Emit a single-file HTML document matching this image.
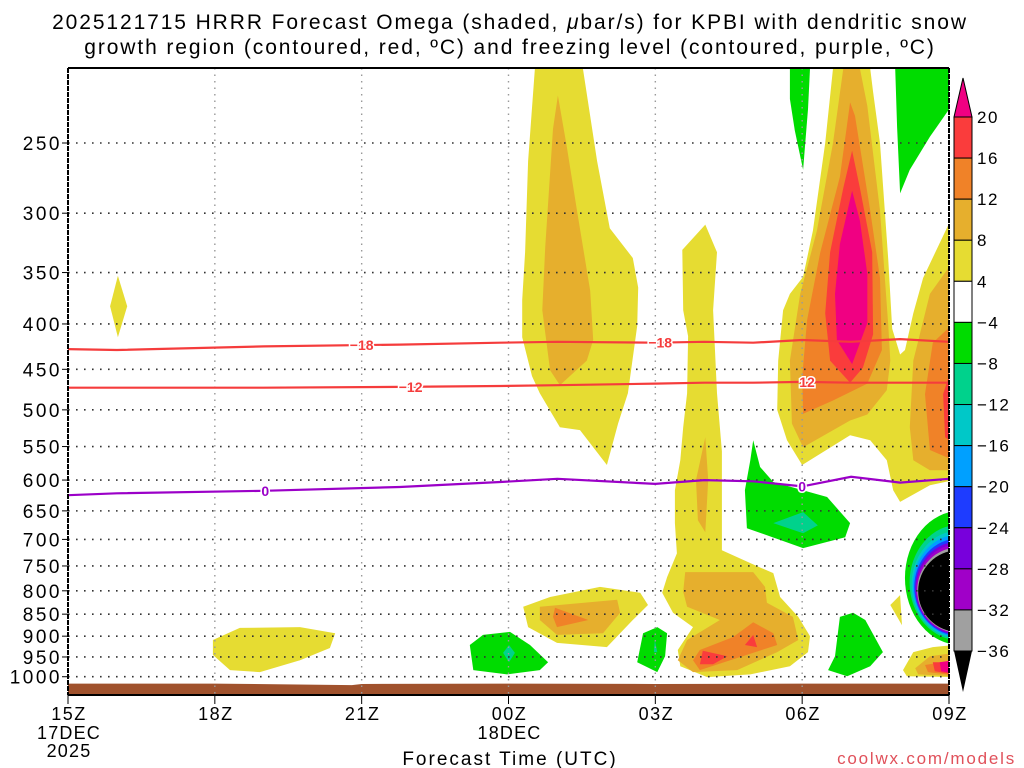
<!DOCTYPE html>
<html><head><meta charset="utf-8"><style>
html,body{margin:0;padding:0;background:#fff;}
#wrap{position:relative;width:1024px;height:768px;overflow:hidden;font-family:"Liberation Sans",sans-serif;}
svg text{font-family:"Liberation Sans",sans-serif;}
</style></head><body>
<div id="wrap">
<svg id="chart" width="1024" height="768" viewBox="0 0 1024 768">
<text x="510" y="29" text-anchor="middle" font-size="21" letter-spacing="1.9">2025121715 HRRR Forecast Omega (shaded, <tspan font-style="italic">μ</tspan>bar/s) for KPBI with dendritic snow</text>
<text x="510" y="54" text-anchor="middle" font-size="21" letter-spacing="1.9">growth region (contoured, red, ºC) and freezing level (contoured, purple, ºC)</text>
<defs><clipPath id="plotclip"><rect x="68" y="68" width="881" height="627"/></clipPath></defs>
<g id="shading" clip-path="url(#plotclip)"></g>
<g id="grid"></g>
<g id="contours" clip-path="url(#plotclip)"></g>
<g id="axes"></g>
<g id="colorbar"></g>
<text x="510" y="765" text-anchor="middle" font-size="19" letter-spacing="2">Forecast Time (UTC)</text>
<text x="1016" y="764" text-anchor="end" font-size="17" fill="#e0505a" letter-spacing="1.8">coolwx.com/models</text>
</svg>
</div>
<script>
// ---- data ----
const pressureTicks=[250,300,350,400,450,500,550,600,650,700,750,800,850,900,950,1000];
const timeTicks=[0,3,6,9,12,15,18];
const timeLabels=["15Z","18Z","21Z","00Z","03Z","06Z","09Z"];
const colorLevels=[20,16,12,8,4,-4,-8,-12,-16,-20,-24,-28,-32,-36];
const colorFills=["#fa3c3c","#f08228","#e6af2d","#e6dc32","#ffffff","#00dc00","#00d28c","#00c8c8","#00a0ff","#1e3cff","#7800dc","#a000c8","#a0a0a0"];
const contourHours=[0,1,4,6.78,8.83,10,12,13,14,15,16,17,18];
const iso18=[427,428,424,422,420,419,420,419,420,417,419,416,419];
const iso12=[472,472,472,471,470,469,467,466,466,465,466,466,466];
const iso0=[624,621,617,611,603,598,606,600,602,610,595,604,598];
const groundHours=[0,3,5.8,6,9,12,15,18];
const groundP=[1018,1018,1022,1019,1018,1019,1018,1018];
const yellowA=[[9.54,206],[10.52,206],[10.81,262],[11.07,312],[11.54,337],[11.65,364],[11.63,402],[11.44,479],[11.24,518],[11.01,577],[10.46,527],[10.05,523],[9.64,479],[9.48,458],[9.28,414],[9.28,376],[9.34,332],[9.40,262]];
const goldA=[[10.01,221],[10.19,252],[10.40,298],[10.67,367],[10.73,417],[10.60,440],[10.05,469],[9.85,451],[9.69,386],[9.75,328],[9.91,241]];
const yellowB=[[1.02,353],[1.21,382],[1.02,414],[0.86,382]];
const yellowCD=[[13.02,309],[13.26,332],[13.18,386],[13.26,479],[13.36,557],[13.36,720],[14.14,753],[14.41,764],[14.55,813],[14.92,856],[15.16,900],[15.12,938],[14.75,973],[13.94,994],[13.06,1001],[12.51,973],[12.46,933],[12.77,879],[12.36,847],[12.14,804],[12.24,772],[12.44,726],[12.40,671],[12.40,616],[12.51,570],[12.57,523],[12.65,479],[12.67,413],[12.57,386],[12.55,330]];
const goldC=[[13.02,537],[13.08,600],[13.02,687],[12.87,666],[12.83,600]];
const goldD=[[12.61,762],[14.00,762],[14.24,792],[14.28,825],[14.81,856],[14.92,909],[14.49,938],[13.67,983],[12.77,988],[12.46,958],[12.65,909],[13.32,863],[12.65,834],[12.57,802]];
const orangeD=[[14.00,868],[14.41,893],[14.49,921],[13.53,958],[12.91,983],[12.77,958],[12.91,933],[13.59,902]];
const redD1=[[12.97,935],[13.47,948],[13.18,968],[12.91,968]];
const redD2=[[14.00,897],[14.08,926],[13.83,921]];
const yellowE=[[9.30,834],[9.85,813],[10.87,792],[11.69,804],[11.85,830],[11.54,863],[11.01,926],[9.99,916],[9.40,879]];
const goldE=[[9.64,834],[11.22,819],[11.28,847],[10.93,893],[9.99,897],[9.64,863]];
const orangeE=[[9.95,836],[10.63,863],[9.99,879],[9.91,856]];
const greenF=[[8.21,921],[8.48,897],[9.03,890],[9.44,921],[9.81,963],[9.64,983],[8.97,994],[8.28,983]];
const tealF=[[9.01,921],[9.13,940],[9.01,963],[8.89,940]];
const greenG=[[11.75,893],[12.04,879],[12.24,893],[12.20,948],[12.04,988],[11.63,963]];
const tealG=[[11.99,909],[12.04,938],[11.97,938]];
const greenH=[[14.00,541],[14.14,580],[14.41,603],[15.51,627],[15.98,671],[15.88,696],[15.02,716],[13.87,680],[13.83,616],[13.94,570]];
const tealH=[[14.41,671],[15.02,652],[15.32,675],[15.02,689]];
const greenI=[[15.77,856],[16.04,847],[16.29,863],[16.65,938],[16.39,973],[15.92,999],[15.53,983],[15.67,948]];
const yellowJ=[[17.00,809],[17.04,875],[16.80,830]];
const greenK=[[14.75,206],[15.16,206],[15.12,229],[15.02,268],[14.85,242],[14.75,223]];
const greenL=[[16.90,206],[18.1,206],[18.1,225],[17.61,246],[17.20,268],[17.00,285],[16.94,240]];
const yellowM=[[15.63,206],[16.39,206],[16.45,219],[16.59,250],[16.76,339],[16.84,405],[17.00,433],[17.10,428],[17.27,389],[17.47,355],[18.1,300],[18.1,600],[17.61,608],[17.00,635],[16.86,616],[16.73,570],[16.39,541],[15.98,534],[15.00,577],[14.69,541],[14.49,500],[14.51,440],[14.61,386],[14.75,370],[15.02,354],[15.22,314],[15.47,250]];
const goldM=[[15.84,206],[16.18,206],[16.33,227],[16.59,298],[16.76,402],[16.80,440],[16.73,475],[16.33,506],[15.98,514],[15.02,551],[14.79,518],[14.75,440],[14.96,370],[15.30,314],[15.63,250]];
const orangeM=[[15.98,225],[16.08,233],[16.39,298],[16.59,355],[16.63,428],[16.33,467],[15.63,488],[15.02,505],[15.00,459],[15.10,396],[15.37,332],[15.77,273]];
const redM=[[16.02,255],[16.18,281],[16.43,332],[16.45,411],[16.24,448],[15.98,466],[15.57,440],[15.47,389],[15.57,332],[15.84,281]];
const magentaM=[[16.02,283],[16.18,306],[16.33,351],[16.33,399],[16.02,444],[15.71,417],[15.67,370],[15.77,325]];
const goldN=[[18.1,339],[17.61,370],[17.27,440],[17.20,523],[17.27,570],[17.61,585],[18.1,585]];
const orangeN=[[18.1,399],[17.67,420],[17.51,480],[17.61,555],[18.1,570]];
const redN=[[18.1,440],[17.88,480],[17.92,537],[18.1,545]];
const yellowO=[[17.06,983],[17.27,938],[17.67,926],[18.1,921],[18.1,1001],[17.14,999]];
const goldO=[[17.31,978],[17.61,948],[18.1,940],[18.1,999],[17.37,994]];
const orangeO=[[17.51,970],[18.1,958],[18.1,996],[17.57,988]];
const redO=[[17.67,963],[18.1,963],[18.1,994],[17.71,986]];
const magentaO=[[17.81,963],[18.1,958],[18.1,991],[17.84,986]];
const yellowP=[[2.96,909],[3.51,881],[4.74,879],[5.46,893],[5.35,928],[4.74,958],[3.92,988],[3.31,983],[2.96,945]];
// right-edge rings: [hourLeft, pTop, pBottom, centreHour]
const ringOuter=[17.10,650,921,18.23];
const ringInner=[17.37,720,890,18.19];
const ringFrac=[0,0.35,0.5,0.6,0.7,0.78,0.85,0.93,1];
const ringFills=["#00dc00","#00d28c","#00c8c8","#00a0ff","#1e3cff","#7800dc","#a000c8","#a0a0a0","#000000"];

// ---- axes ----
const X=h=>68+h*(881/18);
const Y=p=>143+385*Math.log(p/250);
const NS="http://www.w3.org/2000/svg";
function mk(tag,attrs,parent){const e=document.createElementNS(NS,tag);for(const k in attrs)e.setAttribute(k,attrs[k]);parent.appendChild(e);return e;}
const shading=document.getElementById('shading');
const grid=document.getElementById('grid');
const contours=document.getElementById('contours');
const axes=document.getElementById('axes');
const cbar=document.getElementById('colorbar');

const shapes=[
 [yellowA,"#e6dc32","updraft-00z"],[goldA,"#e6af2d","updraft-00z-core"],
 [yellowB,"#e6dc32","updraft-16z"],[yellowP,"#e6dc32","updraft-19z"],
 [yellowCD,"#e6dc32","updraft-03z"],[goldC,"#e6af2d","updraft-03z-core"],[goldD,"#e6af2d","updraft-04z-low"],[orangeD,"#f08228","updraft-04z-orange"],[redD1,"#fa3c3c","updraft-04z-red"],[redD2,"#fa3c3c","updraft-05z-red"],
 [yellowE,"#e6dc32","updraft-01z-low"],[goldE,"#e6af2d","updraft-01z-gold"],[orangeE,"#f08228","updraft-01z-orange"],
 [greenF,"#00dc00","downdraft-00z"],[tealF,"#00d28c","downdraft-00z-core"],
 [greenG,"#00dc00","downdraft-03z"],[tealG,"#00d28c","downdraft-03z-core"],
 [greenH,"#00dc00","downdraft-06z"],[tealH,"#00d28c","downdraft-06z-core"],
 [greenI,"#00dc00","downdraft-07z-low"],[yellowJ,"#e6dc32","updraft-08z-small"],
 [greenK,"#00dc00","downdraft-06z-top"],[greenL,"#00dc00","downdraft-08z-top"],
 [yellowM,"#e6dc32","updraft-07z"],[goldM,"#e6af2d","updraft-07z-gold"],[orangeM,"#f08228","updraft-07z-orange"],[redM,"#fa3c3c","updraft-07z-red"],[magentaM,"#f00082","updraft-07z-max"],
 [goldN,"#e6af2d","updraft-09z-gold"],[orangeN,"#f08228","updraft-09z-orange"],[redN,"#fa3c3c","updraft-09z-red"],
 [yellowO,"#e6dc32","updraft-09z-low"],[goldO,"#e6af2d","updraft-09z-low-gold"],[orangeO,"#f08228","updraft-09z-low-orange"],[redO,"#fa3c3c","updraft-09z-low-red"],[magentaO,"#f00082","updraft-09z-low-max"]
];
shapes.forEach(s=>{
  const pts=s[0].map(q=>X(q[0]).toFixed(1)+","+Y(q[1]).toFixed(1)).join(" ");
  const el=mk('polygon',{points:pts,fill:s[1]},shading);
  
  
});
ringFrac.forEach((t,i)=>{
  const hl=ringOuter[0]+(ringInner[0]-ringOuter[0])*t;
  const hc=ringOuter[3]+(ringInner[3]-ringOuter[3])*t;
  const yt=Y(ringOuter[1])+(Y(ringInner[1])-Y(ringOuter[1]))*t;
  const yb=Y(ringOuter[2])+(Y(ringInner[2])-Y(ringOuter[2]))*t;
  const el=mk('ellipse',{cx:X(hc),cy:(yt+yb)/2,rx:X(hc)-X(hl),ry:(yb-yt)/2,fill:ringFills[i]},shading);
  
  
});
{
  let d="M"+X(groundHours[0])+","+Y(groundP[0]);
  for(let i=1;i<groundHours.length;i++) d+=" L"+X(groundHours[i])+","+Y(groundP[i]);
  d+=" L"+X(18.1)+",700 L68,700 Z";
  const g=mk('path',{d:d,fill:"#a0522d"},shading);
  
  
}
pressureTicks.forEach(p=>{
  const y=Y(p);
  const l=mk('line',{x1:68,x2:949,y1:y,y2:y,stroke:"#333","stroke-width":1.6,"stroke-dasharray":"1.6 6.4"},grid);
  
  
  const t=mk('text',{x:62,y:y+7,"text-anchor":"end","font-size":19,"letter-spacing":"2.5"},axes);
  t.textContent=p;
  
  
  const tk=mk('line',{x1:62,x2:68,y1:y,y2:y,stroke:"#000","stroke-width":1},axes);
  
  
});
timeTicks.forEach((h,i)=>{
  const x=X(h);
  if(h>0&&h<18){
    const l=mk('line',{x1:x,x2:x,y1:68,y2:695,stroke:"#999","stroke-width":1.4,"stroke-dasharray":"1.5 5"},grid);
    
    
  }
  const tk=mk('line',{x1:x,x2:x,y1:695,y2:704,stroke:"#000","stroke-width":1},axes);
  
  
  const t=mk('text',{x:x+1,y:720,"text-anchor":"middle","font-size":18,"letter-spacing":"1.5"},axes);
  t.textContent=timeLabels[i];
  
  
});
[["17DEC",0,739],["2025",0,757],["18DEC",9,739]].forEach(a=>{
  const t=mk('text',{x:X(a[1])+1,y:a[2],"text-anchor":"middle","font-size":18,"letter-spacing":"1.2"},axes);
  t.textContent=a[0];
  
  
});
{
  const f=mk('line',{x1:68,x2:949,y1:68,y2:68,stroke:"#000","stroke-width":2},axes);
  
  
  const b=mk('line',{x1:68,x2:949,y1:695,y2:695,stroke:"#000","stroke-width":2},axes);
  
  
  const l=mk('line',{x1:68,x2:68,y1:68,y2:695,stroke:"#000","stroke-width":2,"stroke-dasharray":"5 1"},axes);
  
  
  const r=mk('line',{x1:949,x2:949,y1:68,y2:695,stroke:"#000","stroke-width":2,"stroke-dasharray":"5 1"},axes);
  
  
}
function contour(vals,color,name){
  const pts=contourHours.map((h,i)=>X(h).toFixed(1)+","+Y(vals[i]).toFixed(1)).join(" ");
  const el=mk('polyline',{points:pts,fill:"none",stroke:color,"stroke-width":2.2},contours);
  
  
}
contour(iso18,"#f53c3c","contour-minus-18c");
contour(iso12,"#f53c3c","contour-minus-12c");
contour(iso0,"#9b00c8","freezing-level-0c");
function interp(vals,h){for(let i=1;i<contourHours.length;i++){if(h<=contourHours[i]){const t=(h-contourHours[i-1])/(contourHours[i]-contourHours[i-1]);return vals[i-1]+t*(vals[i]-vals[i-1]);}}return vals[vals.length-1];}
[["−18",6.0,iso18,"#f53c3c"],["−18",12.1,iso18,"#f53c3c"],["−12",7.0,iso12,"#f53c3c"],["12",15.1,iso12,"#f53c3c"],["0",4.03,iso0,"#9b00c8"],["0",15.0,iso0,"#9b00c8"]].forEach(a=>{
  const x=X(a[1]),y=Y(interp(a[2],a[1]));
  const t=mk('text',{x:x,y:y+5,"text-anchor":"middle","font-size":14,"font-weight":"bold",fill:a[3],stroke:"#fff","stroke-width":3,"paint-order":"stroke"},contours);
  t.textContent=a[0];
  
  
});
{
  const cx0=954,cx1=972,top=117,step=(651-117)/13;
  colorFills.forEach((c,i)=>{
    const r=mk('rect',{x:cx0,y:top+i*step,width:cx1-cx0,height:step,fill:c,stroke:"#000","stroke-width":1},cbar);
    
    
  });
  const tt=mk('polygon',{points:`${cx0},${top} ${cx1},${top} ${(cx0+cx1)/2},78`,fill:"#f00082",stroke:"#000","stroke-width":1},cbar);
  
  
  const bt=mk('polygon',{points:`${cx0},651 ${cx1},651 ${(cx0+cx1)/2},692`,fill:"#000"},cbar);
  
  
  colorLevels.forEach((v,i)=>{
    const t=mk('text',{x:977,y:top+i*step+6,"font-size":17,"letter-spacing":"1.5"},cbar);
    t.textContent=(v<0?"−":"")+Math.abs(v);
    
    
  });
}
</script>
</body></html>
